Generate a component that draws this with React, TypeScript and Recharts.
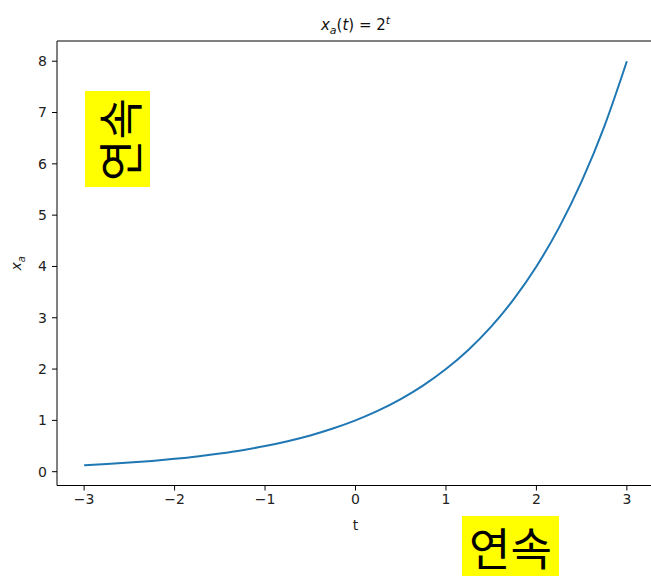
import { Label, Line, LineChart, ReferenceLine, XAxis, YAxis } from "recharts";

// samples of x_a(t) = 2^t
const times = [
  -3, -2.75, -2.5, -2.25, -2, -1.75, -1.5, -1.25, -1, -0.75, -0.5, -0.25, 0,
  0.25, 0.5, 0.75, 1, 1.25, 1.5, 1.75, 2, 2.25, 2.5, 2.75, 3,
];
const values = [
  0.125, 0.149, 0.177, 0.21, 0.25, 0.297, 0.354, 0.42, 0.5, 0.595, 0.707, 0.841, 1,
  1.189, 1.414, 1.682, 2, 2.378, 2.828, 3.364, 4, 4.757, 5.657, 6.727, 8,
];
const xTicks = [-3, -2, -1, 0, 1, 2, 3];
const yTicks = [0, 1, 2, 3, 4, 5, 6, 7, 8];
const annotationText = "연속";

const data = times.map((t, i) => ({ t, value: values[i] }));

const X_DOMAIN: [number, number] = [-3.3, 3.3];
const Y_DOMAIN: [number, number] = [-0.269, 8.394];

const FONT = "'DejaVu Sans', sans-serif";
const KR_FONT = "'Noto Sans CJK KR', sans-serif";
const tickStyle = { fontSize: 14, fill: "#222", fontFamily: FONT };

const fmt = (v: number) => String(v).replace("-", "\u2212");

function YLabel({ viewBox }: any) {
  const cy = viewBox.y + viewBox.height / 2;
  return (
    <text
      x={0}
      y={0}
      transform={`translate(21, ${cy}) rotate(-90)`}
      textAnchor="middle"
      fontFamily={FONT}
      fontSize={14}
      fill="#222"
    >
      <tspan fontStyle="italic">x</tspan>
      <tspan fontStyle="italic" fontSize={10} dy={4}>a</tspan>
    </text>
  );
}

export default function App() {
  return (
    <div
      style={{
        position: "absolute",
        left: 0,
        top: 0,
        width: 651,
        height: 577,
        overflow: "hidden",
        background: "#fff",
      }}
    >
      <div
        style={{
          position: "absolute",
          left: 0,
          width: 711,
          top: 14,
          textAlign: "center",
          fontFamily: FONT,
          fontSize: 15,
          color: "#111",
        }}
      >
        <i>x</i>
        <sub style={{ fontSize: 11 }}>
          <i>a</i>
        </sub>
        (<i>t</i>) = 2
        <sup style={{ fontSize: 11 }}>
          <i>t</i>
        </sup>
      </div>

      <LineChart
        width={660}
        height={577}
        data={data}
        margin={{ top: 41, right: 6, bottom: 31.5, left: 0 }}
        style={{ position: "absolute", left: 0, top: 0 }}
      >
        <XAxis
          dataKey="t"
          type="number"
          domain={X_DOMAIN}
          ticks={xTicks}
          allowDataOverflow
          tickFormatter={fmt}
          tick={tickStyle}
          tickSize={5}
          tickMargin={4}
          stroke="#000"
          height={60}
        >
          <Label value="t" position="insideTop" offset={35} style={{ fontSize: 14, fill: "#222", fontFamily: FONT }} />
        </XAxis>
        <YAxis
          type="number"
          domain={Y_DOMAIN}
          ticks={yTicks}
          allowDataOverflow
          tickFormatter={fmt}
          tick={tickStyle}
          tickSize={5}
          tickMargin={5}
          stroke="#000"
          width={57}
        >
          <Label content={<YLabel />} />
        </YAxis>
        <ReferenceLine y={Y_DOMAIN[1]} stroke="#000" />
        <ReferenceLine x={X_DOMAIN[1]} stroke="#000" />
        <Line
          type="monotone"
          dataKey="value"
          stroke="#1f77b4"
          strokeWidth={2}
          dot={false}
          isAnimationActive={false}
        />
      </LineChart>

      <div
        style={{
          position: "absolute",
          left: 85,
          top: 91,
          width: 65,
          height: 96,
          background: "#ffff00",
        }}
      >
        <div
          style={{
            position: "absolute",
            left: -15.5,
            top: 15.5,
            width: 96,
            height: 65,
            transform: "rotate(-90deg)",
            fontFamily: KR_FONT,
            fontSize: 45,
            lineHeight: "65px",
            textAlign: "center",
            color: "#000",
          }}
        >
          {annotationText}
        </div>
      </div>

      <div
        style={{
          position: "absolute",
          left: 462,
          top: 516,
          width: 97,
          height: 60,
          background: "#ffff00",
          fontFamily: KR_FONT,
          fontSize: 45,
          lineHeight: "62px",
          textAlign: "center",
          color: "#000",
        }}
      >
        {annotationText}
      </div>
    </div>
  );
}
